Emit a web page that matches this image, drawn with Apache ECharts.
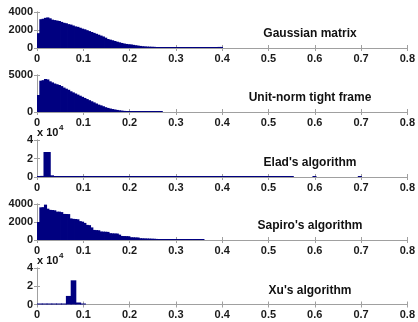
<!DOCTYPE html>
<html>
<head>
<meta charset="utf-8">
<script src="https://cdn.jsdelivr.net/npm/echarts@6/dist/echarts.min.js"></script>
<style>
  html, body { margin: 0; padding: 0; background: #fff; }
  #chart { width: 418px; height: 322px; }
</style>
</head>
<body>
<div id="chart"></div>
<script>
// histogram counts, one value per bin
const gaussCounts = [
  1650, 3200, 3250, 3350, 3400, 3300, 3150, 3100, 3050, 3000,
  2900, 2800, 2750, 2650, 2600, 2500, 2400, 2350, 2250, 2150,
  2080, 1980, 1880, 1780, 1680, 1580, 1480, 1380, 1280, 1150,
  1000, 930, 860, 780, 700, 630, 560, 500, 450, 420,
  400, 350, 310, 270, 230, 200, 180, 160, 150, 140,
  130, 110, 100, 90, 80, 70, 60, 55, 50, 45,
  40, 35, 30, 28, 25, 22, 20, 18, 15, 12,
  10, 9, 8, 7, 6, 5, 5, 4, 120, 120
];
const unitNormCounts = [
  2300, 4230, 4300, 4460, 4400, 4150, 4000, 3850, 3750, 3650,
  3500, 3300, 3150, 3000, 2800, 2650, 2500, 2350, 2200, 2050,
  1900, 1750, 1600, 1450, 1300, 1150, 1000, 900, 780, 650,
  550, 470, 400, 340, 280, 230, 190, 150, 120, 100,
  90, 80, 70, 60, 55, 50, 45, 40, 35, 30,
  25, 20, 15, 10
];
const eladCounts = [
  1000, 1200, 27000, 27000, 1800, 200, 150, 120, 100, 90,
  80, 70, 60, 55, 50, 45, 40, 40, 38, 36,
  35, 34, 33, 32, 31, 30, 30, 29, 28, 28,
  27, 26, 26, 25, 25, 24, 24, 23, 23, 22,
  22, 21, 21, 20, 20, 20, 19, 19, 18, 18,
  18, 17, 17, 17, 16, 16, 16, 15, 15, 15,
  14, 14, 14, 13, 13, 13, 12, 12, 12, 11,
  11, 11, 10, 10, 10, 10, 9, 9, 300, 0,
  0, 0, 0, 0, 0, 300, 0, 0, 0, 0,
  0, 0, 0, 0, 0, 0, 0, 0, 0, 300
];
const sapiroCounts = [
  2000, 3630, 3650, 3930, 3480, 3350, 3330, 3300, 3150, 3150,
  3100, 2900, 2890, 2880, 2400, 2350, 2330, 2300, 2100, 2040,
  1900, 1680, 1650, 1400, 1120, 1100, 1080, 950, 930, 920,
  900, 760, 740, 730, 720, 600, 450, 440, 430, 420,
  310, 300, 290, 280, 200, 190, 180, 170, 160, 150,
  140, 120, 100, 90, 90, 85, 85, 80, 80, 80,
  75, 75, 70, 70, 70, 65, 65, 60, 60, 55,
  55, 50
];
const xuCounts = [50, 40, 40, 50, 80, 1100, 9400, 26500, 2200, 150];

const titles = ['Gaussian matrix', 'Unit-norm tight frame', "Elad's algorithm", "Sapiro's algorithm", "Xu's algorithm"];
const binWidths = [0.005, 0.005, 0.007, 0.005, 0.0104];
const yMaxes = [4000, 5000, 40000, 4000, 40000];
const yIntervals = [2000, 5000, 20000, 2000, 20000];
const yExponents = [0, 0, 4, 0, 4];
const xMin = 0, xMax = 0.8, xInterval = 0.1;

const allCounts = [gaussCounts, unitNormCounts, eladCounts, sapiroCounts, xuCounts];

// panel layout
const tops = [12, 75, 140, 204, 268];
const heights = [36, 37, 37, 36, 36.5];
const gridLeft = 37, gridRight = 8;
const frameColor = '#a0a0a0';
const barColor = '#000080';
const font = '"Liberation Sans", Arial, sans-serif';

const grids = [], xAxes = [], yAxes = [], series = [], graphics = [];

allCounts.forEach((counts, i) => {
  grids.push({ left: gridLeft, right: gridRight, top: tops[i], height: heights[i] });

  const w = binWidths[i];
  const data = [];
  counts.forEach((c, k) => {
    if (c > 0) data.push([k * w, (k + 1) * w, c]);
  });

  const exp = yExponents[i];
  xAxes.push({
    type: 'value', gridIndex: i, position: 'bottom',
    min: xMin, max: xMax, interval: xInterval,
    axisLine: { lineStyle: { color: frameColor } },
    axisTick: { inside: true, length: 3, lineStyle: { color: frameColor } },
    axisLabel: { color: '#1a1a1a', fontWeight: 'bold', fontSize: 11, fontFamily: font, margin: 5 },
    splitLine: { show: false }
  });
  xAxes.push({
    type: 'value', gridIndex: i, position: 'top',
    min: xMin, max: xMax, interval: xInterval,
    axisLine: { lineStyle: { color: frameColor } },
    axisTick: { inside: true, length: 3, lineStyle: { color: frameColor } },
    axisLabel: { show: false },
    splitLine: { show: false }
  });
  yAxes.push({
    type: 'value', gridIndex: i, position: 'left',
    min: 0, max: yMaxes[i], interval: yIntervals[i],
    axisLine: { show: true, lineStyle: { color: frameColor } },
    axisTick: { show: true, inside: true, length: 3, lineStyle: { color: frameColor } },
    axisLabel: {
      color: '#1a1a1a', fontWeight: 'bold', fontSize: 11, fontFamily: font, margin: 4,
      formatter: v => String(v / Math.pow(10, exp))
    },
    splitLine: { show: false }
  });
  yAxes.push({
    type: 'value', gridIndex: i, position: 'right',
    min: 0, max: yMaxes[i], interval: yIntervals[i],
    axisLine: { show: true, lineStyle: { color: frameColor } },
    axisTick: { show: true, inside: true, length: 3, lineStyle: { color: frameColor } },
    axisLabel: { show: false },
    splitLine: { show: false }
  });

  series.push({
    type: 'custom',
    xAxisIndex: 2 * i, yAxisIndex: 2 * i,
    data: data,
    encode: { x: [0, 1], y: 2 },
    renderItem: (params, api) => {
      const p0 = api.coord([api.value(0), 0]);
      const p1 = api.coord([api.value(1), api.value(2)]);
      // at least one pixel tall so near-empty bins still show on the baseline
      const h = Math.max(p0[1] - p1[1], 1);
      return {
        type: 'rect',
        shape: { x: p0[0], y: p0[1] - h, width: p1[0] - p0[0] + 0.8, height: h },
        style: { fill: barColor }
      };
    }
  });

  graphics.push({
    type: 'text', x: 310, y: tops[i] + heights[i] / 2 + 4,
    style: {
      text: titles[i], font: 'bold 12px ' + font, fill: '#111',
      textAlign: 'center', textVerticalAlign: 'middle'
    }
  });

  if (exp) {
    graphics.push({
      type: 'text', left: 37, top: tops[i] - 13,
      style: { text: 'x 10', font: 'bold 11px ' + font, fill: '#111' }
    });
    graphics.push({
      type: 'text', left: 59, top: tops[i] - 16,
      style: { text: String(exp), font: 'bold 8px ' + font, fill: '#111' }
    });
  }
});

const chart = echarts.init(document.getElementById('chart'));
chart.setOption({
  animation: false,
  grid: grids,
  xAxis: xAxes,
  yAxis: yAxes,
  series: series,
  graphic: graphics
});
</script>
</body>
</html>
